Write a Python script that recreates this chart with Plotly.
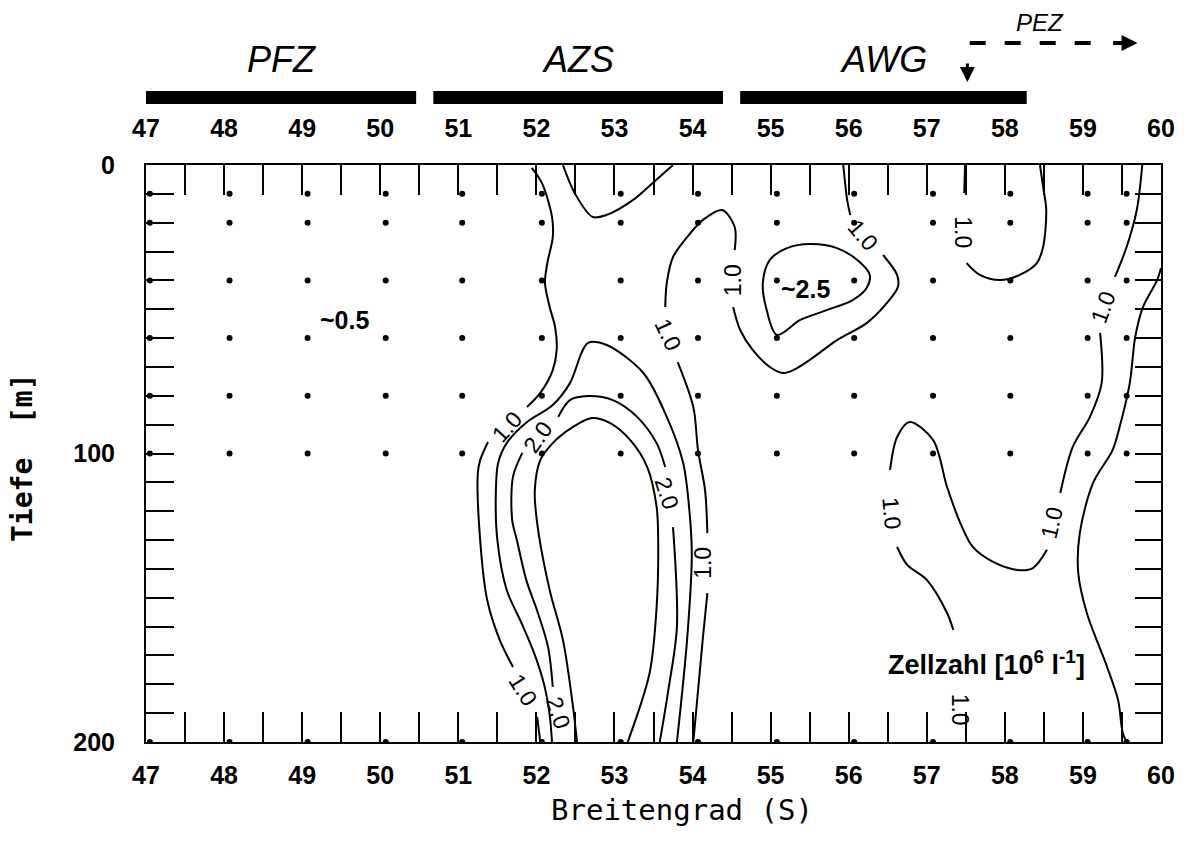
import plotly.graph_objects as go

# ---------------------------------------------------------------------------
# Sampling grid: station latitudes (deg S) and sampled depths (m)
station_lat = [47.05, 48.07, 49.07, 50.07, 51.05, 52.07, 53.08, 54.07,
               55.08, 56.07, 57.08, 58.07, 59.06, 59.56]
sample_depth = [10, 20, 40, 60, 80, 100, 200]

lat_ticks = [47, 48, 49, 50, 51, 52, 53, 54, 55, 56, 57, 58, 59, 60]
depth_ticks = [0, 100, 200]

# Frontal zones along the transect
zone_names = ["PFZ", "AZS", "AWG"]
zone_from = [47.0, 50.68, 54.61]
zone_to = [50.46, 54.39, 58.28]
pez_start = 57.52
pez_end = 59.70

# Isolines of cell number (10^6 per litre) as (latitude, depth) vertices.
# None marks a break where an inline label sits.
iso_10_west = [
    (51.94, 1.0), (52.07, 6.2), (52.20, 18.0), (52.21, 25.0), (52.14, 34.0),
    (52.11, 40.9), (52.17, 49.2), (52.24, 56.2), (52.26, 64.1), (52.21, 71.1),
    (52.05, 79.0), (51.88, 83.9), None,
    (51.38, 96.0), (51.28, 102.3), (51.25, 106.8), (51.28, 130.0),
    (51.37, 150.8), (51.53, 164.6), (51.70, 174.0), None,
    (52.01, 191.3), (52.05, 200.0),
]
iso_15_tongue = [
    (52.20, 200.0), (52.17, 190.6), (52.10, 180.2), (51.98, 169.8),
    (51.82, 159.4), (51.62, 147.3), (51.50, 130.0), (51.48, 115.0),
    (51.51, 103.3), (51.62, 96.4), (51.88, 89.1), (52.21, 83.2),
    (52.43, 75.6), (52.66, 61.7), (52.90, 62.4), (53.37, 72.1),
    (53.67, 87.3), (53.88, 103.3), (53.97, 123.1), (53.99, 135.9),
    (53.93, 164.6), (53.80, 200.0),
]
iso_20_tongue = [
    (52.21, 180.9), (52.15, 167.1), (52.02, 155.3), (51.87, 143.8),
    (51.75, 130.0), (51.69, 123.1), (51.70, 108.1), (51.82, 99.8), None,
    (52.28, 87.3), (52.43, 81.5), (52.66, 80.1), (52.98, 81.5),
    (53.29, 87.3), (53.54, 96.4), (53.65, 104.7), None,
    (53.75, 125.5), (53.80, 160.1), (53.69, 182.0), (53.58, 200.0),
]
iso_25_tongue = [
    (52.52, 200.0), (52.47, 187.9), (52.34, 164.6), (52.17, 147.3),
    (52.01, 124.1), (51.98, 112.7), (52.05, 102.3), (52.21, 96.4),
    (52.47, 90.8), (52.71, 87.7), (52.94, 89.4), (53.20, 95.3),
    (53.42, 104.7), (53.54, 118.5), (53.56, 130.0), (53.54, 153.2),
    (53.45, 176.1), (53.17, 200.0),
]
iso_surface_dip = [
    (52.34, 0.0), (52.49, 9.7), (52.72, 18.0), (52.90, 17.3),
    (53.24, 12.1), (53.49, 6.2), (53.75, 0.0),
]
iso_10_central = [
    (54.01, 200.0), (54.13, 164.6), (54.19, 148.4), None,
    (54.19, 127.6), (54.16, 112.7), (54.07, 98.8), (54.01, 83.9),
    (53.81, 68.3), None,
    (53.65, 49.2), (53.67, 40.9), (53.75, 31.9), (53.93, 25.0),
    (54.13, 19.1), (54.38, 15.6), (54.54, 21.5), (54.54, 29.5), None,
    (54.52, 49.2), (54.61, 57.2), (54.77, 64.1), (54.99, 70.0),
    (55.16, 72.1), (55.29, 71.1), (55.50, 67.6), (55.85, 60.7),
    (56.23, 54.8), (56.49, 47.8), (56.63, 42.3), (56.62, 38.1),
    (56.44, 31.2), None,
    (56.02, 17.3), (55.98, 12.1), (55.95, 5.2), (55.93, 0.0),
]
iso_25_patch = [
    (55.08, 58.9), (54.95, 50.3), (54.90, 40.9), (54.99, 32.9),
    (55.21, 28.8), (55.50, 27.4), (55.85, 28.8), (56.14, 33.6),
    (56.27, 38.1), (56.23, 42.6), (56.05, 46.8), (55.72, 50.3),
    (55.38, 53.7), (55.08, 58.9),
]
iso_10_cap = [
    (57.49, 0.0), (57.48, 9.7), None,
    (57.51, 34.0), (57.68, 38.1), (57.94, 39.9), (58.19, 38.1),
    (58.41, 34.0), (58.49, 28.4), (58.53, 15.6), (58.49, 7.6), (58.45, 0.0),
]
iso_10_east = [
    (59.76, 0.0), (59.69, 15.6), (59.56, 28.4), (59.41, 38.8), None,
    (59.22, 58.2), (59.24, 75.6), (59.09, 87.3), (58.87, 97.7),
    (58.71, 113.7), None,
    (58.54, 133.4), (58.36, 139.7), (58.16, 140.4), (57.85, 137.6),
    (57.59, 132.4), (57.43, 124.1), (57.26, 111.6), (57.08, 95.3),
    (56.78, 89.1), (56.62, 94.3), (56.53, 105.7), None,
    (56.62, 132.4), (56.75, 138.6), (57.00, 143.8), (57.26, 155.3),
    (57.34, 161.2),
]
iso_10_edge = [
    (60.00, 35.7), (59.95, 39.9), (59.77, 49.2), (59.67, 59.6),
    (59.60, 75.6), (59.47, 90.8), (59.38, 98.8), (59.13, 110.2),
    (58.96, 127.6), (58.94, 141.4), (59.05, 155.3), (59.31, 174.0),
    (59.45, 185.4), (59.51, 196.9), (59.56, 200.0),
]

isolines = [iso_10_west, iso_15_tongue, iso_20_tongue, iso_25_tongue,
            iso_surface_dip, iso_10_central, iso_25_patch, iso_10_cap,
            iso_10_east, iso_10_edge]

# Inline isoline labels: text, latitude, depth, rotation
contour_labels = [
    ("1.0", 51.62, 90.8, -48), ("1.0", 51.83, 182.0, 58),
    ("2.0", 52.02, 94.3, -55), ("2.0", 53.67, 113.7, 72),
    ("2.0", 52.28, 190.0, 72), ("1.0", 54.13, 138.0, -90),
    ("1.0", 53.69, 58.9, 65), ("1.0", 54.52, 39.9, -90),
    ("1.0", 56.18, 24.3, 50), ("1.0", 57.46, 23.2, 90),
    ("1.0", 59.26, 49.2, -70), ("1.0", 58.60, 124.1, -77),
    ("1.0", 56.55, 120.6, 85), ("1.0", 57.43, 188.9, 90),
]
# Values of the uncontoured patches
patch_labels = [("~0.5", 49.54, 53.7), ("~2.5", 55.45, 43.0)]

# ---------------------------------------------------------------------------
AX_FONT = dict(family="Liberation Sans, Arial", size=25, color="black",
               weight="bold")
LBL_FONT = dict(family="Liberation Sans, Arial", size=23, color="black")

fig = go.Figure()

for line in isolines:
    xs = [p[0] if p is not None else None for p in line]
    ys = [p[1] if p is not None else None for p in line]
    fig.add_trace(go.Scatter(
        x=xs, y=ys, mode="lines", connectgaps=False,
        line=dict(color="black", width=2, shape="spline", smoothing=0.9),
        hoverinfo="skip", xaxis="x", yaxis="y"))

grid_x = [lat for lat in station_lat for _ in sample_depth]
grid_y = [d for _ in station_lat for d in sample_depth]
fig.add_trace(go.Scatter(
    x=grid_x, y=grid_y, mode="markers",
    marker=dict(color="black", size=6),
    xaxis="x2", yaxis="y2", hoverinfo="skip"))


def note(**kw):
    base = dict(showarrow=False, xanchor="center", yanchor="middle")
    base.update(kw)
    return base


annotations = []
for text, lat, dep, ang in contour_labels:
    annotations.append(note(x=lat, y=dep, xref="x", yref="y", text=text,
                            textangle=ang, font=LBL_FONT))
for text, lat, dep in patch_labels:
    annotations.append(note(x=lat, y=dep, xref="x", yref="y", text=text,
                            font=dict(family="Liberation Sans", size=25,
                                      color="black", weight="bold")))
annotations.append(note(x=57.77, y=172.6, xref="x", yref="y",
                        text="Zellzahl [10<sup>6</sup> l<sup>-1</sup>]",
                        font=dict(family="Liberation Sans", size=27,
                                  color="black", weight="bold")))

shapes = []
for name, a, b in zip(zone_names, zone_from, zone_to):
    shapes.append(dict(type="rect", xref="x", yref="paper", x0=a, x1=b,
                       y0=1.1057, y1=1.1282, fillcolor="black",
                       line=dict(width=0)))
    annotations.append(note(x=(a + b) / 2, y=1.182, xref="x", yref="paper",
                            text=name,
                            font=dict(family="Liberation Sans", size=36,
                                      color="black", style="italic")))

# PEZ: dashed extent arrow and boundary marker
shapes.append(dict(type="line", xref="x", yref="paper", x0=pez_start + 0.03,
                   x1=pez_end - 0.58, y0=1.2114, y1=1.2114,
                   line=dict(color="black", width=4, dash="16px,19px")))
annotations.append(dict(x=pez_end, y=1.2114, xref="x", yref="paper",
                        ax=-26, ay=0, text="", showarrow=True, arrowhead=2,
                        arrowsize=0.8, arrowwidth=4, arrowcolor="black"))
annotations.append(dict(x=pez_start, y=1.1438, xref="x", yref="paper",
                        ax=0, ay=-20, text="", showarrow=True, arrowhead=2,
                        arrowsize=1, arrowwidth=3, arrowcolor="black"))
annotations.append(note(x=58.45, y=1.2478, xref="x", yref="paper",
                        text="PEZ",
                        font=dict(family="Liberation Sans", size=24,
                                  color="black", style="italic")))

# Axis titles
annotations.append(note(x=0.528, y=-0.118, xref="paper", yref="paper",
                        text="Breitengrad (S)",
                        font=dict(family="DejaVu Sans Mono", size=29,
                                  color="black")))
annotations.append(note(x=-0.1222, y=0.4939, xref="paper", yref="paper",
                        text="Tiefe  [m]", textangle=-90,
                        font=dict(family="DejaVu Sans Mono", size=28,
                                  color="black", weight="bold")))

x_common = dict(range=[47, 60], tickmode="array", tickvals=lat_ticks,
                ticktext=[str(v) for v in lat_ticks], ticks="inside",
                ticklen=30, tickwidth=2, tickcolor="black",
                minor=dict(tickmode="linear", tick0=47, dtick=0.5,
                           ticks="inside", ticklen=30, tickwidth=2,
                           tickcolor="black"),
                showline=True, linewidth=2, linecolor="black",
                showgrid=False, zeroline=False, tickfont=AX_FONT)
y_common = dict(range=[200, 0], tickmode="array", tickvals=depth_ticks,
                ticktext=[str(v) for v in depth_ticks], ticks="inside",
                tickwidth=2, tickcolor="black",
                showline=True, linewidth=2, linecolor="black",
                showgrid=False, zeroline=False, tickfont=AX_FONT)

fig.update_layout(
    width=1190, height=849,
    margin=dict(l=146, r=29, t=165, b=107),
    paper_bgcolor="white", plot_bgcolor="white",
    showlegend=False,
    xaxis=dict(**x_common, side="bottom", ticklabelstandoff=10),
    xaxis2=dict(**x_common, side="top", overlaying="x", anchor="y",
                ticklabelstandoff=16),
    yaxis=dict(**y_common, side="left", ticklen=28, ticklabelstandoff=24,
               minor=dict(tickmode="linear", tick0=0, dtick=10,
                          ticks="inside", ticklen=28, tickwidth=2,
                          tickcolor="black")),
    yaxis2=dict(**y_common, side="right", overlaying="y", anchor="x",
                ticklen=26, showticklabels=False,
                minor=dict(tickmode="linear", tick0=0, dtick=10,
                           ticks="inside", ticklen=26, tickwidth=2,
                           tickcolor="black")),
    shapes=shapes,
    annotations=annotations,
)

fig.write_html("out.html")
